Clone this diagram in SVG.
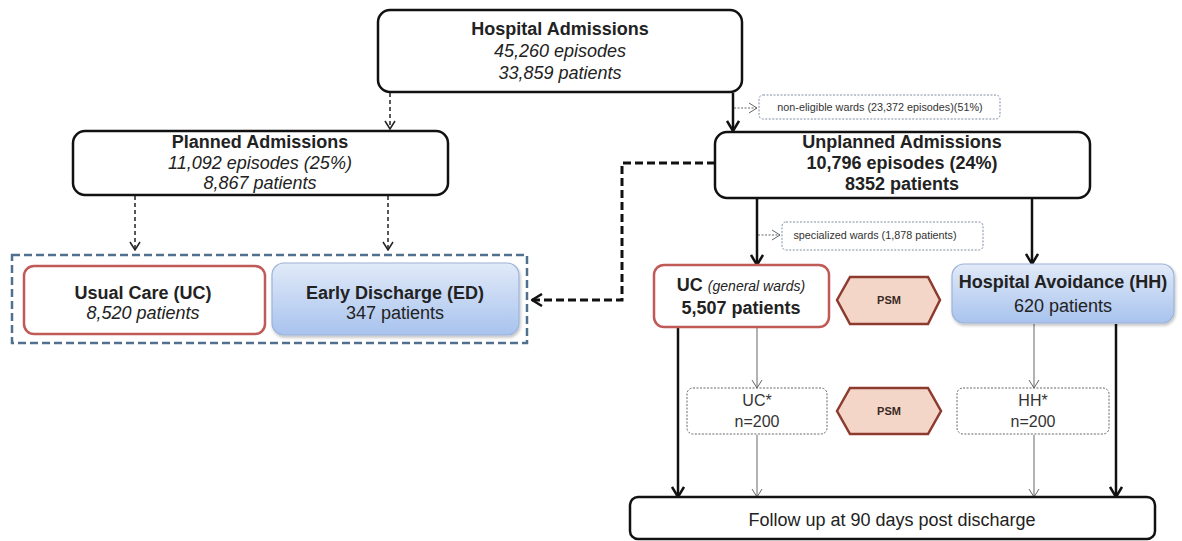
<svg xmlns="http://www.w3.org/2000/svg" width="1182" height="541" viewBox="0 0 1182 541">
  <style>
    text { font-family: "Liberation Sans", Arial, sans-serif; fill: #222; text-anchor: middle; }
    .b { font-weight: bold; font-size: 18px; }
    .i { font-style: italic; font-size: 18px; }
    .n { font-size: 18px; }
    .sm { font-size: 10.8px; fill: #333; }
    .star { font-size: 16px; fill: #333; }
    .psm { font-weight: bold; font-size: 11px; fill: #3a2a25; }
    .box { fill: #fff; stroke: #111; stroke-width: 2.5; }
    .red { fill: #fff; stroke: #bf5a57; stroke-width: 2.5; }
    .blue { fill: url(#blueGrad); stroke: #9db3d8; stroke-width: 1.2; }
    .note { fill: #fff; stroke: #7d8ea3; stroke-width: 1; stroke-dasharray: 2 1.5; }
    .sub { fill: #fff; stroke: #666; stroke-width: 1; stroke-dasharray: 2 1.5; }
    .hex { fill: #f3d6c8; stroke: #8e3b2f; stroke-width: 2.5; }
    .thick { fill: none; stroke: #111; stroke-width: 2.5; marker-end: url(#headThick); }
    .thin { fill: none; stroke: #666; stroke-width: 1; marker-end: url(#headThin); }
    .dash { fill: none; stroke: #222; stroke-width: 1.5; stroke-dasharray: 4 3; marker-end: url(#headDash); }
    .dashNote { fill: none; stroke: #666; stroke-width: 1; stroke-dasharray: 2 1.5; marker-end: url(#headThin); }
    .dashBig { fill: none; stroke: #111; stroke-width: 3; stroke-dasharray: 8 4; marker-end: url(#headBig); }
  </style>
  <defs>
    <linearGradient id="blueGrad" x1="0" y1="0" x2="0" y2="1">
      <stop offset="0" stop-color="#e1eaf8"/>
      <stop offset="1" stop-color="#a8c3ee"/>
    </linearGradient>
    <filter id="softShadow" x="-5%" y="-10%" width="110%" height="125%">
      <feDropShadow dx="1" dy="2" stdDeviation="1.5" flood-color="#000" flood-opacity="0.25"/>
    </filter>
    <marker id="headThick" markerUnits="userSpaceOnUse" viewBox="0 0 12 14" refX="11" refY="7" markerWidth="12" markerHeight="14" orient="auto">
      <path d="M1,1 L11,7 L1,13" fill="none" stroke="#111" stroke-width="2.5"/>
    </marker>
    <marker id="headThin" markerUnits="userSpaceOnUse" viewBox="0 0 10 12" refX="9" refY="6" markerWidth="10" markerHeight="12" orient="auto">
      <path d="M1,1 L9,6 L1,11" fill="none" stroke="#666" stroke-width="1"/>
    </marker>
    <marker id="headDash" markerUnits="userSpaceOnUse" viewBox="0 0 10 12" refX="9" refY="6" markerWidth="10" markerHeight="12" orient="auto">
      <path d="M1,1 L9,6 L1,11" fill="none" stroke="#222" stroke-width="1.5"/>
    </marker>
    <marker id="headBig" markerUnits="userSpaceOnUse" viewBox="0 0 12 14" refX="11" refY="7" markerWidth="12" markerHeight="14" orient="auto">
      <path d="M1,1 L11,7 L1,13" fill="none" stroke="#111" stroke-width="2.5"/>
    </marker>
  </defs>

  <rect width="1182" height="541" fill="#fff"/>

  <!-- connectors -->
  <g id="connectors">
    <path class="dash" d="M390,93 V129"/>
    <path class="thick" d="M733,93 V131"/>
    <path class="dashNote" d="M734,108 H757"/>
    <path class="dash" d="M135,196 V250"/>
    <path class="dash" d="M388,196 V250"/>
    <path class="dashBig" d="M715,163 H622 V300 H532"/>
    <path class="thick" d="M757,198 V265"/>
    <path class="dashNote" d="M758,235 H780"/>
    <path class="thick" d="M1032,198 V264"/>
    <path class="thick" d="M678,327 V497"/>
    <path class="thin" d="M757,327 V388"/>
    <path class="thin" d="M757,435 V497"/>
    <path class="thin" d="M1034,324 V388"/>
    <path class="thin" d="M1034,435 V497"/>
    <path class="thick" d="M1116,324 V497"/>
  </g>

  <g id="hospital-admissions">
    <rect class="box" x="378" y="10" width="364" height="82" rx="12"/>
    <text class="b" x="560" y="35">Hospital Admissions</text>
    <text class="i" x="560" y="57">45,260 episodes</text>
    <text class="i" x="560" y="79">33,859 patients</text>
  </g>

  <g id="non-eligible">
    <rect class="note" x="759" y="95" width="241" height="24" rx="4"/>
    <text class="sm" x="880" y="111">non-eligible wards (23,372 episodes)(51%)</text>
  </g>

  <g id="planned-admissions">
    <rect class="box" x="73" y="131" width="375" height="64" rx="12"/>
    <text class="b" x="260" y="148">Planned Admissions</text>
    <text class="i" x="260" y="169">11,092 episodes (25%)</text>
    <text class="i" x="260" y="189">8,867 patients</text>
  </g>

  <g id="unplanned-admissions">
    <rect class="box" x="715" y="132" width="375" height="66" rx="12"/>
    <text class="b" x="902" y="148">Unplanned Admissions</text>
    <text class="b" x="902" y="169">10,796 episodes (24%)</text>
    <text class="b" x="902" y="190">8352 patients</text>
  </g>

  <g id="planned-group">
    <rect x="12" y="255" width="515" height="88" fill="none" stroke="#51708f" stroke-width="2.5" stroke-dasharray="8 4"/>
  </g>

  <g id="usual-care">
    <rect class="red" x="24" y="266" width="241" height="68" rx="10"/>
    <text class="b" x="143" y="299">Usual Care (UC)</text>
    <text class="i" x="143" y="319">8,520 patients</text>
  </g>

  <g id="early-discharge">
    <rect class="blue" x="272" y="263" width="247" height="72" rx="12" filter="url(#softShadow)"/>
    <text class="b" x="395" y="299">Early Discharge (ED)</text>
    <text class="n" x="395" y="319">347 patients</text>
  </g>

  <g id="specialized-wards">
    <rect class="note" x="782" y="222" width="201" height="28" rx="4"/>
    <text class="sm" x="875" y="239">specialized wards (1,878 patients)</text>
  </g>

  <g id="uc-general">
    <rect class="red" x="654" y="265" width="175" height="62" rx="10"/>
    <text x="741" y="291"><tspan class="b">UC </tspan><tspan font-style="italic" font-size="14px">(general wards)</tspan></text>
    <text class="b" x="741" y="314">5,507 patients</text>
  </g>

  <g id="psm-1">
    <polygon class="hex" points="837,300 850,277 928,277 940,300 928,324 850,324"/>
    <text class="psm" x="889" y="304">PSM</text>
  </g>

  <g id="hospital-avoidance">
    <rect class="blue" x="952" y="264" width="222" height="59" rx="12" filter="url(#softShadow)"/>
    <text class="b" x="1063" y="288">Hospital Avoidance (HH)</text>
    <text class="n" x="1063" y="312">620 patients</text>
  </g>

  <g id="uc-matched">
    <rect class="sub" x="687" y="388" width="140" height="46" rx="6"/>
    <text class="star" x="757" y="406">UC*</text>
    <text class="star" x="757" y="427">n=200</text>
  </g>

  <g id="psm-2">
    <polygon class="hex" points="837,411 850,388 928,388 941,411 928,434 850,434"/>
    <text class="psm" x="889" y="415">PSM</text>
  </g>

  <g id="hh-matched">
    <rect class="sub" x="957" y="388" width="152" height="46" rx="6"/>
    <text class="star" x="1033" y="406">HH*</text>
    <text class="star" x="1033" y="427">n=200</text>
  </g>

  <g id="follow-up">
    <rect class="box" x="630" y="497" width="525" height="42" rx="8"/>
    <text class="n" x="892" y="526">Follow up at 90 days post discharge</text>
  </g>
</svg>
